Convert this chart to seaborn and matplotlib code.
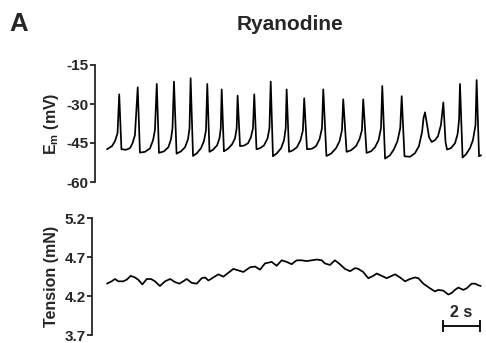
import matplotlib
matplotlib.use("Agg")
import matplotlib.pyplot as plt
import seaborn as sns
import pandas as pd

sns.set_style("ticks")
plt.rcParams["font.family"] = ["Liberation Sans", "DejaVu Sans"]
plt.rcParams["font.weight"] = "bold"
plt.rcParams["mathtext.fontset"] = "custom"
plt.rcParams["mathtext.rm"] = "Liberation Sans:bold"
plt.rcParams["mathtext.bf"] = "Liberation Sans:bold"
plt.rcParams["mathtext.it"] = "Liberation Sans:bold"

# ---- membrane potential trace (s, mV) ----
em_time = [0.00, 0.27, 0.43, 0.57, 0.66, 0.78, 1.03, 1.24, 1.38, 1.51, 1.66,
           1.78, 2.05, 2.32, 2.49, 2.59, 2.69, 2.81, 3.08, 3.32, 3.46, 3.54, 3.62,
           3.76, 4.00, 4.22, 4.38, 4.46, 4.52, 4.65, 4.86, 5.08, 5.24, 5.35, 5.42,
           5.54, 5.73, 5.95, 6.08, 6.15, 6.20, 6.32, 6.54, 6.76, 6.92, 7.01, 7.06,
           7.19, 7.41, 7.62, 7.78, 7.89, 7.96, 8.08, 8.27, 8.49, 8.68, 8.78, 8.85,
           8.97, 9.19, 9.41, 9.57, 9.66, 9.71, 9.84, 10.05, 10.27, 10.46, 10.59, 10.66,
           10.81, 11.08, 11.30, 11.49, 11.62, 11.69, 11.86, 12.11, 12.38, 12.57, 12.70, 12.77,
           12.95, 13.19, 13.46, 13.65, 13.78, 13.85, 14.03, 14.27, 14.49, 14.68, 14.81, 14.88,
           15.03, 15.30, 15.51, 15.70, 15.85, 15.93, 16.08, 16.38, 16.65, 16.86, 17.03, 17.11,
           17.19, 17.30, 17.41, 17.55, 17.73, 17.89, 18.05, 18.18, 18.30, 18.38, 18.59, 18.81,
           18.95, 19.03, 19.08, 19.22, 19.41, 19.62, 19.78, 19.92, 19.98, 20.11, 20.22]
em_mv = [-47.4, -46.2, -44.3, -41.2, -26.3, -47.4, -47.6, -47.0, -45.1, -42.0, -23.6,
         -48.7, -48.4, -47.1, -43.9, -40.1, -22.3, -48.8, -48.2, -46.6, -43.5, -39.3, -21.4,
         -49.1, -48.2, -46.6, -43.5, -39.3, -20.1, -50.0, -48.9, -47.0, -44.3, -40.1, -22.3,
         -48.4, -47.6, -45.9, -43.2, -39.3, -24.4, -48.2, -47.2, -45.5, -43.2, -39.3, -26.8,
         -46.2, -46.0, -45.1, -42.8, -39.3, -26.3, -47.4, -47.0, -45.9, -43.2, -39.3, -21.4,
         -50.1, -48.9, -47.0, -43.9, -39.3, -24.4, -48.4, -47.8, -46.6, -43.9, -40.1, -27.8,
         -47.4, -47.2, -46.2, -43.5, -39.3, -24.4, -50.0, -49.1, -47.0, -44.3, -40.1, -28.2,
         -48.4, -47.8, -46.2, -43.5, -40.1, -28.2, -48.8, -48.2, -46.6, -43.9, -39.3, -23.1,
         -51.0, -49.7, -47.4, -44.3, -39.3, -27.0, -50.1, -50.3, -48.9, -46.2, -40.8, -35.4,
         -33.2, -38.1, -42.8, -44.6, -43.9, -42.4, -38.1, -29.4, -44.7, -47.5, -47.0, -45.1,
         -41.6, -36.2, -22.3, -50.6, -49.3, -47.0, -43.9, -38.1, -20.8, -50.1, -49.7]

# ---- tension trace (s, mN) ----
ten_time = [0.00, 0.25, 0.43, 0.61, 0.88, 1.06, 1.28, 1.51, 1.69, 1.91, 2.15, 2.38,
            2.59, 2.86, 3.14, 3.41, 3.68, 3.91, 4.12, 4.31, 4.58, 4.85, 5.12, 5.30,
            5.48, 5.75, 6.02, 6.29, 6.56, 6.83, 7.10, 7.37, 7.73, 8.00, 8.27, 8.54,
            8.90, 9.17, 9.44, 9.71, 9.98, 10.25, 10.52, 10.79, 11.06, 11.34, 11.61, 11.78,
            12.05, 12.32, 12.59, 12.86, 13.14, 13.41, 13.58, 13.85, 14.12, 14.39, 14.58, 14.85,
            15.12, 15.39, 15.57, 15.84, 16.11, 16.38, 16.65, 16.83, 17.10, 17.46, 17.73, 17.91,
            18.18, 18.45, 18.63, 18.81, 18.99, 19.26, 19.44, 19.71, 19.89, 20.07, 20.20]
ten_mn = [4.36, 4.39, 4.42, 4.39, 4.39, 4.41, 4.46, 4.44, 4.41, 4.35, 4.42, 4.42,
          4.39, 4.33, 4.39, 4.42, 4.38, 4.36, 4.39, 4.42, 4.37, 4.36, 4.43, 4.44,
          4.40, 4.44, 4.48, 4.45, 4.50, 4.55, 4.53, 4.51, 4.57, 4.58, 4.54, 4.62,
          4.64, 4.59, 4.66, 4.64, 4.61, 4.66, 4.66, 4.65, 4.66, 4.67, 4.66, 4.62,
          4.60, 4.66, 4.61, 4.55, 4.52, 4.56, 4.55, 4.51, 4.43, 4.46, 4.49, 4.46,
          4.43, 4.46, 4.48, 4.44, 4.39, 4.42, 4.44, 4.43, 4.36, 4.30, 4.26, 4.28,
          4.27, 4.22, 4.24, 4.28, 4.31, 4.28, 4.30, 4.36, 4.36, 4.34, 4.33]

em_ticks = [-60, -45, -30, -15]
ten_ticks = [3.7, 4.2, 4.7, 5.2]
scale_bar_center = 19.16   # s
scale_bar_half = 1.0       # s  (bar = 2 s)
scale_bar_level = 3.81     # mN
scale_label = "2 s"

df_em = pd.DataFrame({"t": em_time, "v": em_mv})
df_ten = pd.DataFrame({"t": ten_time, "v": ten_mn})

W, H = 486, 343
fig = plt.figure(figsize=(W / 100, H / 100), dpi=100)

ax1 = fig.add_axes([95 / W, 1 - 182 / H, (484 - 95) / W, (182 - 65) / H])
ax2 = fig.add_axes([92 / W, 1 - 335 / H, (484 - 92) / W, (335 - 218.3) / H])

sns.lineplot(data=df_em, x="t", y="v", ax=ax1, color="black", linewidth=1.25,
             estimator=None, sort=False)
sns.lineplot(data=df_ten, x="t", y="v", ax=ax2, color="black", linewidth=1.25,
             estimator=None, sort=False)

ax1.set_xlim((95 - 107) / 18.5, (484 - 107) / 18.5)
ax2.set_xlim((92 - 107) / 18.5, (484 - 107) / 18.5)
ax1.set_ylim(-60, -15)
ax2.set_ylim(3.7, 5.2)
ax1.set_yticks(em_ticks)
ax1.set_yticklabels([str(v) for v in em_ticks])
ax2.set_yticks(ten_ticks)
ax2.set_yticklabels([f"{v:.1f}" for v in ten_ticks])

for ax in (ax1, ax2):
    for s in ("top", "right", "bottom"):
        ax.spines[s].set_visible(False)
    ax.spines["left"].set_linewidth(1.3)
    ax.set_xticks([])
    ax.set_xlabel("")
    ax.tick_params(axis="y", length=3.5, width=1.3, pad=1, labelsize=11)
    for lab in ax.get_yticklabels():
        lab.set_fontweight("bold")
    ax.patch.set_alpha(0)

ax1.set_ylabel(r"$\mathbf{E_m}$ (mV)", fontsize=11.5, fontweight="bold", labelpad=4)
ax2.set_ylabel("Tension (mN)", fontsize=11.5, fontweight="bold", labelpad=4)

ax2.errorbar([scale_bar_center], [scale_bar_level], xerr=scale_bar_half,
             color="black", linewidth=1.3, capsize=4, capthick=1.3)
ax2.text(scale_bar_center, scale_bar_level + 0.08, scale_label, ha="center",
         va="bottom", fontsize=11.5, fontweight="bold")

fig.text(290 / W, 1 - 25 / H, "Ryanodine", ha="center", va="center",
         fontsize=15, fontweight="bold")
fig.text(9 / W, 1 - 24 / H, "A", ha="left", va="center",
         fontsize=18.5, fontweight="bold")

fig.savefig("out.png", dpi=100)
